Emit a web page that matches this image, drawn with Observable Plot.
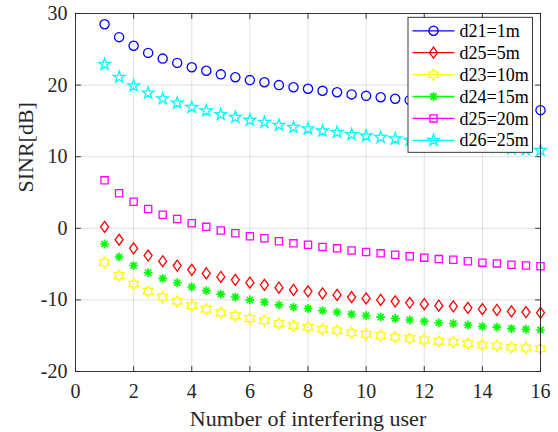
<!DOCTYPE html>
<html>
<head>
<meta charset="utf-8">
<script src="https://cdn.jsdelivr.net/npm/d3@7"></script>
<script src="https://cdn.jsdelivr.net/npm/@observablehq/plot@0.6"></script>
<style>
  html, body { margin: 0; padding: 0; background: #fff; }
  #chart { width: 558px; height: 432px; }
  svg { font-family: "Liberation Serif", "Times New Roman", serif; }
</style>
</head>
<body>
<div id="chart"></div>
<script>
// ---- data ----
const users = [1,1.5,2,2.5,3,3.5,4,4.5,5,5.5,6,6.5,7,7.5,8,8.5,9,9.5,10,10.5,11,11.5,12,12.5,13,13.5,14,14.5,15,15.5,16];

const seriesNames = ["d21=1m", "d25=5m", "d23=10m", "d24=15m", "d25=20m", "d26=25m"];

const sinr_d21_1m  = [28.5,26.7,25.5,24.5,23.7,23.1,22.5,22.0,21.5,21.1,20.7,20.4,20.0,19.7,19.5,19.2,19.0,18.7,18.5,18.3,18.1,17.9,17.7,17.5,17.4,17.2,17.0,16.9,16.7,16.6,16.5];
const sinr_d25_5m  = [0.2,-1.6,-2.8,-3.8,-4.6,-5.2,-5.8,-6.3,-6.8,-7.2,-7.6,-7.9,-8.3,-8.6,-8.8,-9.1,-9.3,-9.6,-9.8,-10.0,-10.2,-10.4,-10.6,-10.8,-10.9,-11.1,-11.3,-11.4,-11.6,-11.7,-11.8];
const sinr_d23_10m = [-4.8,-6.6,-7.8,-8.8,-9.6,-10.2,-10.8,-11.3,-11.8,-12.2,-12.6,-12.9,-13.3,-13.6,-13.8,-14.1,-14.3,-14.6,-14.8,-15.0,-15.2,-15.4,-15.6,-15.8,-15.9,-16.1,-16.3,-16.4,-16.6,-16.7,-16.8];
const sinr_d24_15m = [-2.2,-4.0,-5.2,-6.2,-7.0,-7.6,-8.2,-8.7,-9.2,-9.6,-10.0,-10.3,-10.7,-11.0,-11.2,-11.5,-11.7,-12.0,-12.2,-12.4,-12.6,-12.8,-13.0,-13.2,-13.3,-13.5,-13.7,-13.8,-14.0,-14.1,-14.2];
const sinr_d25_20m = [6.7,4.9,3.7,2.7,1.9,1.3,0.7,0.2,-0.3,-0.7,-1.1,-1.4,-1.8,-2.1,-2.3,-2.6,-2.8,-3.1,-3.3,-3.5,-3.7,-3.9,-4.1,-4.3,-4.4,-4.6,-4.8,-4.9,-5.1,-5.2,-5.3];
const sinr_d26_25m = [22.9,21.1,19.9,18.9,18.1,17.5,16.9,16.4,15.9,15.5,15.1,14.8,14.4,14.1,13.9,13.6,13.4,13.1,12.9,12.7,12.5,12.3,12.1,11.9,11.8,11.6,11.4,11.3,11.1,11.0,10.9];

const xTicks = [0,2,4,6,8,10,12,14,16];
const yTicks = [-20,-10,0,10,20,30];
const xLabel = "Number of interfering user";
const yLabel = "SINR[dB]";

// ---- styling ----
const colors = ["#0000ff", "#ff0000", "#ffff00", "#00ff00", "#ff00ff", "#00ffff"];

// custom MATLAB-like markers (size = pi r^2)
const rad = size => Math.sqrt(size / Math.PI);
const symCircle = { draw(c, size) { const r = rad(size); c.moveTo(r, 0); c.arc(0, 0, r, 0, 2 * Math.PI); c.closePath(); } };
const symDiamond = { draw(c, size) { const r = rad(size); const w = 0.8 * r, h = 1.1 * r; c.moveTo(0, -h); c.lineTo(w, 0); c.lineTo(0, h); c.lineTo(-w, 0); c.closePath(); } };
const symSquare = { draw(c, size) { const r = rad(size); c.rect(-r, -r, 2 * r, 2 * r); } };
function starPath(c, n, R, ri, rot) {
  for (let i = 0; i < 2 * n; i++) {
    const a = rot + i * Math.PI / n;
    const rr = i % 2 === 0 ? R : ri;
    const x = rr * Math.sin(a), y = -rr * Math.cos(a);
    if (i === 0) c.moveTo(x, y); else c.lineTo(x, y);
  }
  c.closePath();
}
const symHexagram = { draw(c, size) { const R = rad(size); starPath(c, 6, R, R / Math.sqrt(3), 0); } };
const symPentagram = { draw(c, size) { const R = rad(size); starPath(c, 5, R, R * 0.382, 0); } };
const symAsterisk = { draw(c, size) { const r = rad(size); const d = r * Math.SQRT1_2;
  c.moveTo(-r, 0); c.lineTo(r, 0); c.moveTo(0, -r); c.lineTo(0, r);
  c.moveTo(-d, -d); c.lineTo(d, d); c.moveTo(-d, d); c.lineTo(d, -d); } };

const symbols = [symCircle, symDiamond, symHexagram, symAsterisk, symSquare, symPentagram];
const radii = [4.6, 5, 5.6, 4.4, 3.6, 6.2];
const widths = [1.3, 1.3, 1.3, 1.6, 1.3, 1.3];

const allSeries = [sinr_d21_1m, sinr_d25_5m, sinr_d23_10m, sinr_d24_15m, sinr_d25_20m, sinr_d26_25m];
const rows = allSeries.flatMap((vals, s) => vals.map((v, i) => ({ series: s, x: users[i], y: v })));

const axisColor = "#262626";
const tickLen = 5;
const tickShape = { draw(c, l) { c.moveTo(0, 0); c.lineTo(0, -l); } };
const fmt = d => String(d); // plain hyphen-minus like the reference

const chart = Plot.plot({
  width: 558,
  height: 432,
  marginLeft: 75,
  marginRight: 18,
  marginTop: 13,
  marginBottom: 61,
  style: { fontFamily: "Liberation Serif, Times New Roman, serif", background: "#fff", color: axisColor },
  x: { domain: [0, 16] },
  y: { domain: [-20, 30] },
  marks: [
    Plot.gridX(xTicks, { stroke: "#000", strokeOpacity: 0.12, strokeWidth: 1 }),
    Plot.gridY(yTicks, { stroke: "#000", strokeOpacity: 0.12, strokeWidth: 1 }),
    Plot.axisX(xTicks, { anchor: "bottom", tickSize: 0, tickPadding: 12, fontSize: 20, label: null, color: axisColor, tickFormat: fmt }),
    Plot.axisY(yTicks, { anchor: "left", tickSize: 0, tickPadding: 8, fontSize: 20, label: null, color: axisColor, tickFormat: fmt }),
    // inward ticks on all four sides
    Plot.vector(xTicks, { x: d => d, y: -20, length: tickLen, rotate: 0, anchor: "start", shape: tickShape, stroke: axisColor, strokeWidth: 0.9 }),
    Plot.vector(xTicks, { x: d => d, y: 30, length: tickLen, rotate: 180, anchor: "start", shape: tickShape, stroke: axisColor, strokeWidth: 0.9 }),
    Plot.vector(yTicks, { y: d => d, x: 0, length: tickLen, rotate: 90, anchor: "start", shape: tickShape, stroke: axisColor, strokeWidth: 0.9 }),
    Plot.vector(yTicks, { y: d => d, x: 16, length: tickLen, rotate: -90, anchor: "start", shape: tickShape, stroke: axisColor, strokeWidth: 0.9 }),
    ...allSeries.map((vals, s) =>
      Plot.dot(rows.filter(d => d.series === s), {
        x: "x", y: "y", symbol: symbols[s], r: radii[s],
        stroke: colors[s], fill: "none", strokeWidth: widths[s]
      })
    ),
    Plot.frame({ stroke: axisColor, strokeWidth: 0.9 }),
    Plot.text([xLabel], { frameAnchor: "bottom", dy: 54, fontSize: 22, fill: axisColor }),
    Plot.text([yLabel], { frameAnchor: "left", dx: -50, rotate: -90, fontSize: 22, fill: axisColor })
  ]
});

document.getElementById("chart").appendChild(chart);

// ---- legend (inside the axes, top right) ----
const xs = chart.scale("x"), ys = chart.scale("y");
const plotRight = xs.range[1], plotTop = ys.range[1];
const svg = d3.select(chart);
const boxW = 124.5, boxH = 135, rowH = 21.9;
const bx = plotRight - 7.5 - boxW, by = plotTop + 4.3;
const lg = svg.append("g").attr("transform", `translate(${bx},${by})`)
  .attr("text-anchor", "start");
lg.append("rect").attr("width", boxW).attr("height", boxH)
  .attr("fill", "#fff").attr("stroke", axisColor).attr("stroke-width", 0.9);
seriesNames.forEach((name, i) => {
  const cy = 13.5 + i * rowH;
  const row = lg.append("g").attr("transform", `translate(0,${cy})`);
  row.append("line").attr("x1", 4.5).attr("x2", 46.5).attr("y1", 0).attr("y2", 0)
    .attr("stroke", colors[i]).attr("stroke-width", 1.3);
  row.append("path").attr("transform", "translate(25.5,0)")
    .attr("d", d3.symbol(symbols[i], Math.PI * radii[i] * radii[i])())
    .attr("fill", "none").attr("stroke", colors[i]).attr("stroke-width", widths[i]);
  row.append("text").attr("x", 51.5).attr("y", 0).attr("dy", "0.34em")
    .attr("text-anchor", "start")
    .attr("font-size", 18).attr("fill", "#000").text(name);
});
</script>
</body>
</html>
